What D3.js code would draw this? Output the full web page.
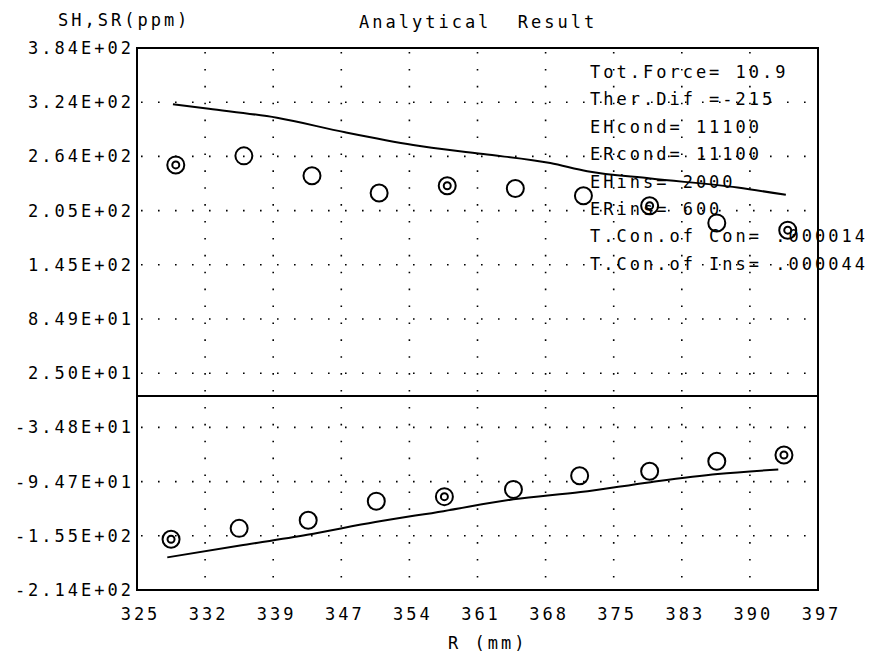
<!DOCTYPE html>
<html>
<head>
<meta charset="utf-8">
<script src="https://cdn.jsdelivr.net/npm/d3@7"></script>
<style>
body { margin: 0; background: #fff; }
svg text { font-family: "DejaVu Sans Mono", monospace; font-size: 17px; letter-spacing: 3px; fill: #000; }
</style>
</head>
<body>
<svg></svg>
<script>
// axis ticks
var xTickValues = [325, 332.2, 339.4, 346.6, 353.8, 361, 368.2, 375.4, 382.6, 389.8, 397];
var xTickLabels = ["325", "332", "339", "347", "354", "361", "368", "375", "383", "390", "397"];
var yTickValues = [384, 324.2, 264.4, 204.6, 144.8, 85, 25.2, -34.6, -94.4, -154.2, -214];
var yTickLabels = ["3.84E+02", "3.24E+02", "2.64E+02", "2.05E+02", "1.45E+02", "8.49E+01",
                   "2.50E+01", "-3.48E+01", "-9.47E+01", "-1.55E+02", "-2.14E+02"];

// measured points (SH upper, SR lower), 1 = double ring marker
var upperR = [329.1, 336.3, 343.5, 350.6, 357.8, 365.0, 372.2, 379.2, 386.3, 393.8];
var upperMeas = [255, 265, 243, 224, 232, 229, 221, 210, 191, 183];
var upperDouble = [1, 0, 0, 0, 1, 0, 0, 1, 0, 1];
var lowerR = [328.6, 335.8, 343.1, 350.3, 357.5, 364.8, 371.8, 379.2, 386.3, 393.4];
var lowerMeas = [-158, -146, -137, -116, -111, -103, -88, -83, -72, -65];
var lowerDouble = [1, 0, 0, 0, 1, 0, 0, 0, 0, 1];

// analytical curves
var upperCalcR = [328.8, 332.6, 339.8, 347.0, 354.2, 361.6, 368.7, 372.6, 379.3, 388.5, 393.6];
var upperCalc = [322, 317, 307, 291, 277, 267, 257, 248, 240, 230, 222];
var lowerCalcR = [328.2, 335.9, 343.0, 350.2, 357.4, 364.8, 371.9, 379.3, 386.4, 392.8];
var lowerCalc = [-178, -165, -153, -139, -127, -114, -106, -95, -86, -81];

var notes = ["Tot.Force= 10.9", "Ther.Dif =-215", "EHcond= 11100", "ERcond= 11100",
             "EHins= 2000", "ERins= 600", "T.Con.of Con= .000014", "T.Con.of Ins= .000044"];

var W = 874, H = 656;
var pLeft = 137, pRight = 818, pTop = 48, pBottom = 590;

var svg = d3.select("svg").attr("width", W).attr("height", H);

var x = d3.scaleLinear().domain([325, 397]).range([pLeft, pRight]);
var y = d3.scaleLinear().domain([-214, 384]).range([pBottom, pTop]);

// dotted grid
svg.append("g").selectAll("line")
    .data(xTickValues.slice(1, -1))
    .enter().append("line")
    .attr("x1", d => x(d)).attr("x2", d => x(d))
    .attr("y1", pTop + 4).attr("y2", pBottom)
    .attr("stroke", "#000").attr("stroke-width", 1.6)
    .attr("stroke-dasharray", "1.6 15.3");

svg.append("g").selectAll("line")
    .data(yTickValues.slice(1, -1))
    .enter().append("line")
    .attr("x1", pLeft + 4).attr("x2", pRight)
    .attr("y1", d => y(d)).attr("y2", d => y(d))
    .attr("stroke", "#000").attr("stroke-width", 1.6)
    .attr("stroke-dasharray", "1.6 15.4");

// frame + zero line
svg.append("rect")
    .attr("x", pLeft).attr("y", pTop)
    .attr("width", pRight - pLeft).attr("height", pBottom - pTop)
    .attr("fill", "none").attr("stroke", "#000").attr("stroke-width", 2);

svg.append("line")
    .attr("x1", pLeft).attr("x2", pRight)
    .attr("y1", y(0)).attr("y2", y(0))
    .attr("stroke", "#000").attr("stroke-width", 2);

// axes
var yAxis = svg.append("g")
    .attr("transform", "translate(" + (pLeft - 3) + ",0)")
    .call(d3.axisLeft(y).tickValues(yTickValues)
        .tickFormat((d, i) => yTickLabels[i]).tickSize(0).tickPadding(0));
yAxis.select(".domain").remove();

var xAxis = svg.append("g")
    .attr("transform", "translate(3," + pBottom + ")")
    .call(d3.axisBottom(x).tickValues(xTickValues)
        .tickFormat((d, i) => xTickLabels[i]).tickSize(0).tickPadding(18));
xAxis.select(".domain").remove();

// curves
var line = d3.line().x(d => x(d[0])).y(d => y(d[1])).curve(d3.curveMonotoneX);

svg.append("path")
    .datum(d3.zip(upperCalcR, upperCalc))
    .attr("d", line)
    .attr("fill", "none").attr("stroke", "#000").attr("stroke-width", 2);

svg.append("path")
    .datum(d3.zip(lowerCalcR, lowerCalc))
    .attr("d", line)
    .attr("fill", "none").attr("stroke", "#000").attr("stroke-width", 2);

// markers
function drawMarkers(rs, vals, dbl) {
    var pts = d3.zip(rs, vals, dbl);
    var g = svg.append("g");
    g.selectAll("circle.outer")
        .data(pts).enter().append("circle")
        .attr("class", "outer")
        .attr("cx", d => x(d[0])).attr("cy", d => y(d[1]))
        .attr("r", 8.5)
        .attr("fill", "none").attr("stroke", "#000").attr("stroke-width", 2);
    g.selectAll("circle.inner")
        .data(pts.filter(d => d[2] == 1)).enter().append("circle")
        .attr("class", "inner")
        .attr("cx", d => x(d[0])).attr("cy", d => y(d[1]))
        .attr("r", 3.5)
        .attr("fill", "none").attr("stroke", "#000").attr("stroke-width", 2);
}
drawMarkers(upperR, upperMeas, upperDouble);
drawMarkers(lowerR, lowerMeas, lowerDouble);

// titles
svg.append("text").attr("x", 58).attr("y", 26).text("SH,SR(ppm)");
svg.append("text").attr("x", 359).attr("y", 28)
    .style("white-space", "pre").text("Analytical  Result");
svg.append("text").attr("x", 448).attr("y", 649).text("R (mm)");

// parameter notes
svg.append("g").selectAll("text")
    .data(notes).enter().append("text")
    .attr("x", 590)
    .attr("y", (d, i) => 78 + i * 27.4)
    .style("white-space", "pre")
    .text(d => d);
</script>
</body>
</html>
